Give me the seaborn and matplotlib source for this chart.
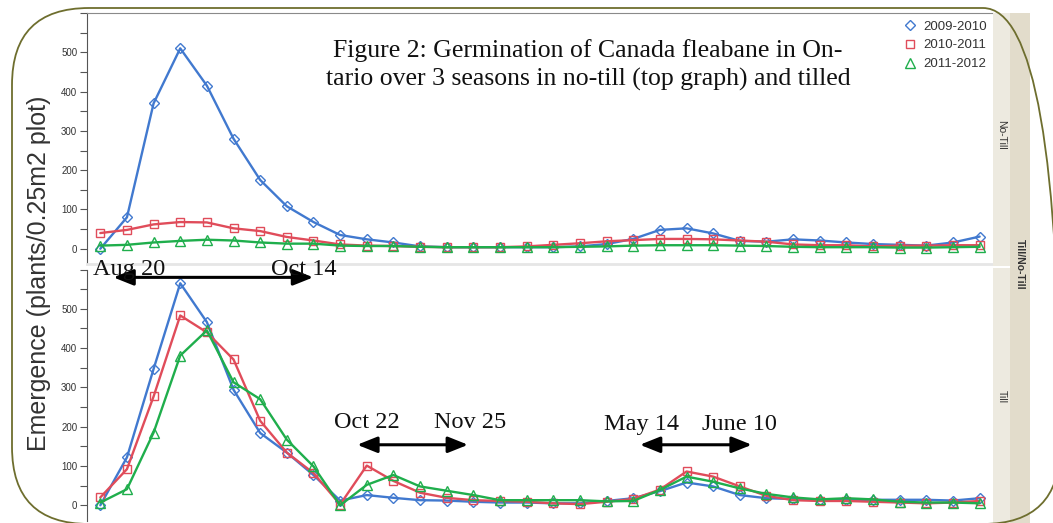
import numpy as np
import pandas as pd
import seaborn as sns
import matplotlib.pyplot as plt
import matplotlib.ticker as mticker
from matplotlib.lines import Line2D
from matplotlib.patches import Rectangle, FancyBboxPatch

# weekly sampling dates (index along the season)
week = list(range(34))
seasons = ['2009-2010', '2010-2011', '2011-2012']

# No-Till panel
notill_0910 = [0, 80, 370, 510, 415, 280, 175, 108, 68, 35, 24, 16, 6, 4, 4, 4, 4, 4, 6, 12,
               25, 48, 52, 39, 20, 18, 24, 21, 16, 12, 10, 8, 16, 31]
notill_1011 = [40, 48, 62, 68, 67, 52, 45, 30, 21, 11, 8, 7, 5, 4, 4, 4, 6, 10, 14, 19,
               22, 25, 25, 24, 21, 18, 11, 9, 9, 6, 8, 8, 9, 9]
notill_1112 = [8, 10, 16, 20, 23, 21, 16, 13, 13, 8, 7, 7, 5, 4, 4, 4, 4, 4, 5, 6,
               8, 9, 9, 9, 8, 7, 5, 4, 4, 4, 3, 3, 4, 5]

# Till panel
till_0910 = [0, 122, 347, 565, 466, 294, 184, 134, 77, 12, 26, 19, 13, 12, 9, 7, 7, 5, 5, 11,
             18, 36, 58, 48, 26, 18, 16, 14, 14, 14, 14, 14, 12, 18]
till_1011 = [20, 92, 277, 483, 440, 371, 215, 134, 82, 2, 101, 62, 32, 19, 13, 11, 9, 5, 3, 9,
             16, 40, 86, 73, 48, 24, 13, 11, 11, 9, 7, 5, 7, 11]
till_1112 = [7, 41, 185, 381, 445, 313, 270, 167, 99, 0, 52, 77, 48, 37, 26, 13, 13, 13, 13, 10,
             11, 39, 73, 60, 43, 29, 20, 15, 18, 15, 9, 7, 7, 5]

yticks = [0, 100, 200, 300, 400, 500]

palette = {'2009-2010': '#4179cf', '2010-2011': '#e04c5a', '2011-2012': '#1fae4c'}
markers = {'2009-2010': 'D', '2010-2011': 's', '2011-2012': '^'}
msizes = {'D': 5.0, 's': 5.8, '^': 6.5}


def long_df(series):
    frames = []
    for s, vals in zip(seasons, series):
        frames.append(pd.DataFrame({'week': week, 'emergence': vals, 'season': s}))
    return pd.concat(frames, ignore_index=True)


df_notill = long_df([notill_0910, notill_1011, notill_1112])
df_till = long_df([till_0910, till_1011, till_1112])

sns.set_style('ticks')
plt.rcParams['font.family'] = ['Liberation Sans', 'DejaVu Sans']

fig = plt.figure(figsize=(10.53, 5.23), dpi=100)
ax_top = fig.add_axes([0.0826, 0.4943, 0.8604, 0.4809])
ax_bot = fig.add_axes([0.0826, 0.0038, 0.8604, 0.4809])

for ax, d in [(ax_top, df_notill), (ax_bot, df_till)]:
    sns.lineplot(data=d, x='week', y='emergence', hue='season', style='season',
                 hue_order=seasons, style_order=seasons, palette=palette,
                 markers=markers, dashes=False, linewidth=1.7, legend=False, ax=ax)
    for line in ax.lines:
        line.set_markerfacecolor('none')
        line.set_markeredgecolor(line.get_color())
        line.set_markeredgewidth(1.0)
        line.set_markersize(msizes.get(line.get_marker(), 6))
    ax.set_xlim(-0.5, 33.5)
    ax.set_ylim(-40, 600)
    ax.yaxis.set_major_locator(mticker.FixedLocator(yticks))
    ax.yaxis.set_minor_locator(mticker.MultipleLocator(50))
    ax.set_xticks([])
    ax.set_xlabel('')
    ax.set_ylabel('')
    ax.tick_params(axis='y', which='both', direction='out', length=5, width=0.8,
                   color='#555555', labelsize=7, labelcolor='#333333', pad=2)
    ax.spines['left'].set_color('#555555')
    ax.spines['right'].set_visible(False)

ax_top.spines['top'].set_color('#8a8a8a')
ax_top.spines['bottom'].set_color('#e6e6e6')
ax_top.spines['bottom'].set_linewidth(2)
ax_bot.spines['top'].set_visible(False)
ax_bot.spines['bottom'].set_visible(False)

# legend (markers only)
handles = [Line2D([], [], ls='none', marker=markers[s], mfc='none', mec=palette[s],
                  mew=1.0, ms=msizes[markers[s]]) for s in seasons]
ax_top.legend(handles, seasons, loc='upper right', bbox_to_anchor=(0.937, 0.961),
              bbox_transform=fig.transFigure, frameon=False, fontsize=9.5,
              handlelength=0.9, handletextpad=0.55, labelspacing=0.5,
              borderpad=0, borderaxespad=0, labelcolor='#333333')

# facet strips on the right
fig.add_artist(Rectangle((0.943, 0.4905), 0.0162, 0.4847, transform=fig.transFigure,
                         facecolor='#edeae0', edgecolor='none'))
fig.add_artist(Rectangle((0.943, 0.0), 0.0162, 0.4867, transform=fig.transFigure,
                         facecolor='#edeae0', edgecolor='none'))
fig.add_artist(Rectangle((0.9592, 0.0), 0.019, 0.9752, transform=fig.transFigure,
                         facecolor='#e2dccb', edgecolor='none'))
fig.text(0.951, 0.742, 'No-Till', rotation=270, ha='center', va='center',
         fontsize=7.5, color='#333333')
fig.text(0.951, 0.241, 'Till', rotation=270, ha='center', va='center',
         fontsize=7.5, color='#333333')
fig.text(0.9687, 0.495, 'Till/No-Till', rotation=270, ha='center', va='center',
         fontsize=7.5, fontweight='bold', color='#333333')

# y label shared by both panels
fig.text(0.037, 0.478, 'Emergence (plants/0.25m2 plot)', rotation=90, ha='center',
         va='center', fontsize=18, color='#333333')

# caption
serif = ['Liberation Serif', 'DejaVu Serif']
fig.text(0.5584, 0.891, 'Figure 2: Germination of Canada fleabane in On-', ha='center',
         va='baseline', fontsize=18.5, family=serif, color='#111111')
fig.text(0.5584, 0.8356, 'tario over 3 seasons in no-till (top graph) and tilled', ha='center',
         va='baseline', fontsize=18.5, family=serif, color='#111111')

# date ranges
arrow_kw = dict(arrowstyle='<|-|>,head_length=0.55,head_width=0.22', color='black',
                lw=2.2, mutation_scale=22, shrinkA=0, shrinkB=0)
ranges = [(0.49, 7.99, 580, 'Aug 20', 1.1, 'Oct 14', 7.65, 587),
          (9.64, 13.8, 154, 'Oct 22', 9.99, 'Nov 25', 13.87, 197),
          (20.25, 24.45, 154, 'May 14', 20.3, 'June 10', 24.0, 192)]
for x0, x1, ya, t0, tx0, t1, tx1, yt in ranges:
    ax_bot.annotate('', xy=(x1, ya), xytext=(x0, ya), arrowprops=arrow_kw,
                    annotation_clip=False)
    ax_bot.text(tx0, yt, t0, ha='center', va='baseline', fontsize=17.5, family=serif,
                color='#111111', clip_on=False)
    ax_bot.text(tx1, yt, t1, ha='center', va='baseline', fontsize=17.5, family=serif,
                color='#111111', clip_on=False)

# slide frame
fig.add_artist(FancyBboxPatch((0.12, -0.01), 10.48, 5.16,
                              boxstyle='round,pad=0,rounding_size=0.77',
                              transform=fig.dpi_scale_trans, fill=False,
                              edgecolor='#6e6e2e', lw=1.3, zorder=10))

fig.savefig('out.png', dpi=100)
